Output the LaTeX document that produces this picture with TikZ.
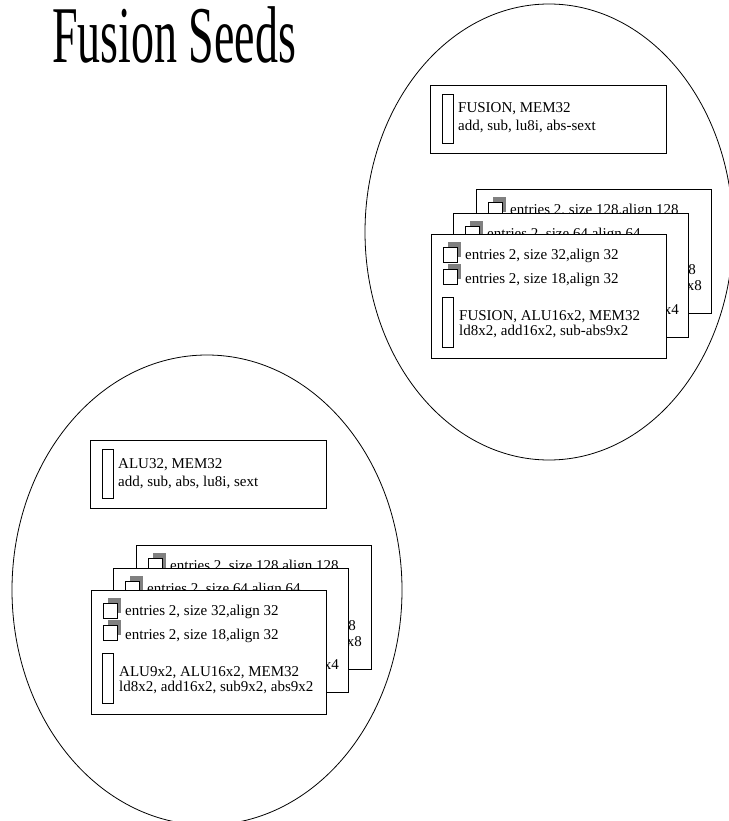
\documentclass[tikz,border=0pt]{standalone}
\usepackage{fontspec}
\setmainfont{Liberation Serif}
\usetikzlibrary{positioning,calc}

% small shaded square in front of an entries row: #1 name, #2 card, #3 offset below the card top
\newcommand\seedicon[3]{%
  \fill[black!50] ($(#2.north west)+(17,#3-5)$) rectangle ++(13,15);
  \node[iconbox,anchor=north west] (#1) at ($(#2.north west)+(12,#3)$) {};
}
% one card of a stack: #1 name, #2 top left corner, #3 first entries row
\newcommand\seedcard[3]{%
  \node[card,anchor=north west] (#1) at (#2) {};
  \seedicon{#1-i1}{#1}{13}
  \node[txt] (#1-r1) at ($(#1.north west)+(34,25)$) {#3};
}

\begin{document}
\begin{tikzpicture}[x=1pt,y=-1pt,
    card/.style={draw=black,fill=white,line width=0.9pt,minimum width=235pt,minimum height=124pt,inner sep=0pt},
    unitbox/.style={card,minimum width=236pt,minimum height=68pt},
    bar/.style={draw=black,fill=white,line width=0.8pt,minimum width=11pt,minimum height=50pt,inner sep=0pt},
    iconbox/.style={draw=black,fill=white,line width=0.8pt,minimum width=14pt,minimum height=15pt,inner sep=0pt},
    txt/.style={anchor=base west,inner sep=0pt,font=\fontsize{15}{18}\selectfont},
    seed/.style={draw=black,line width=0.8pt}]
  \useasboundingbox (0,0) rectangle (728,821);
  \node[anchor=base west,inner sep=0pt,font=\fontsize{46}{46}\selectfont] (title) at (52,63) {\scalebox{1}[1.75]{Fusion Seeds}};

  \draw[seed] (549,232) ellipse [x radius=184,y radius=228];
  \draw[seed] (207,590) ellipse [x radius=195,y radius=235];

  % upper seed
  \node[unitbox,anchor=north west] (fm) at (430,85) {};
  \node[bar,minimum height=49pt,anchor=north west] (fm-bar) at ($(fm.north west)+(12,9)$) {};
  \node[txt] (fm-l1) at ($(fm.north west)+(28,28)$) {FUSION, MEM32};
  \node[txt] (fm-l2) at ($(fm.north west)+(28,46)$) {add, sub, lu8i, abs-sext};

  \seedcard{fb}{476,189}{entries 2, size 128,align 128}
  \node[txt,anchor=base east] (fb-t1) at ($(fb.north west)+(220,85)$) {8};
  \node[txt,anchor=base east] (fb-t2) at ($(fb.north west)+(226,101)$) {x8};
  \seedcard{fc}{453,213}{entries 2, size 64,align 64}
  \node[txt,anchor=base east] (fc-t2) at ($(fc.north west)+(226,101)$) {x4};
  \seedcard{ff}{431,234}{entries 2, size 32,align 32}
  \seedicon{ff-i2}{ff}{35}
  \node[txt] (ff-r2) at ($(ff.north west)+(34,49)$) {entries 2, size 18,align 32};
  \node[bar,anchor=north west] (ff-bar) at ($(ff.north west)+(11,63)$) {};
  \node[txt] (ff-u1) at ($(ff.north west)+(28,86)$) {FUSION, ALU16x2, MEM32};
  \node[txt] (ff-u2) at ($(ff.north west)+(28,101)$) {ld8x2, add16x2, sub-abs9x2};

  % lower seed
  \node[unitbox,anchor=north west] (am) at (90,440) {};
  \node[bar,minimum height=49pt,anchor=north west] (am-bar) at ($(am.north west)+(12,9)$) {};
  \node[txt] (am-l1) at ($(am.north west)+(28,28)$) {ALU32, MEM32};
  \node[txt] (am-l2) at ($(am.north west)+(28,46)$) {add, sub, abs, lu8i, sext};

  \seedcard{ab}{136,545}{entries 2, size 128,align 128}
  \node[txt,anchor=base east] (ab-t1) at ($(ab.north west)+(220,85)$) {8};
  \node[txt,anchor=base east] (ab-t2) at ($(ab.north west)+(226,101)$) {x8};
  \seedcard{ac}{113,568}{entries 2, size 64,align 64}
  \node[txt,anchor=base east] (ac-t2) at ($(ac.north west)+(226,101)$) {x4};
  \seedcard{af}{91,590}{entries 2, size 32,align 32}
  \seedicon{af-i2}{af}{35}
  \node[txt] (af-r2) at ($(af.north west)+(34,49)$) {entries 2, size 18,align 32};
  \node[bar,anchor=north west] (af-bar) at ($(af.north west)+(11,63)$) {};
  \node[txt] (af-u1) at ($(af.north west)+(28,86)$) {ALU9x2, ALU16x2, MEM32};
  \node[txt] (af-u2) at ($(af.north west)+(28,101)$) {ld8x2, add16x2, sub9x2, abs9x2};
\end{tikzpicture}
\end{document}
